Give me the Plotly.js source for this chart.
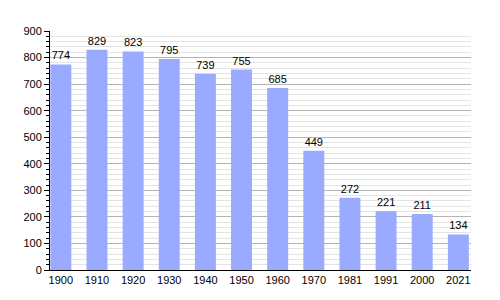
<!DOCTYPE html>
<html><head><meta charset="utf-8">
<script src="https://cdn.plot.ly/plotly-3.0.1.min.js"></script>
<style>body{margin:0;background:#fff}#c{width:500px;height:300px}</style>
</head><body><div id="c"></div>
<script>
const years = ["1900","1910","1920","1930","1940","1950","1960","1970","1981","1991","2000","2021"];
const population = [774,829,823,795,739,755,685,449,272,221,211,134];
const yTicks = [0,100,200,300,400,500,600,700,800,900];

const trace = {
  type: 'bar', x: years, y: population,
  marker: {color: '#99aaff'},
  text: population.map(String), textposition: 'outside',
  textfont: {family: 'Liberation Sans, Arial, sans-serif', size: 11, color: '#000'},
  cliponaxis: false, hoverinfo: 'none'
};
const layout = {
  width: 500, height: 300,
  margin: {l: 50, r: 29, t: 31, b: 30},
  paper_bgcolor: '#fff', plot_bgcolor: '#fff',
  bargap: 0.42, showlegend: false,
  font: {family: 'Liberation Sans, Arial, sans-serif', size: 11, color: '#000'},
  xaxis: {type: 'category', range: [-0.3, 11.35], showline: true, linecolor: '#000', linewidth: 1,
          ticks: '', showgrid: false, zeroline: false, fixedrange: true, ticklen: 0},
  yaxis: {range: [0, 900], tickvals: yTicks, showline: true, linecolor: '#000', linewidth: 1,
          ticks: 'outside', ticklen: 5, tickcolor: '#000', gridcolor: '#b4b4b4', zeroline: false,
          minor: {dtick: 20, tick0: 0, ticks: 'outside', ticklen: 3, tickcolor: '#000', showgrid: true, gridcolor: '#e4e4e4'}}
};
Plotly.newPlot('c', [trace], layout, {staticPlot: true});
</script></body></html>
